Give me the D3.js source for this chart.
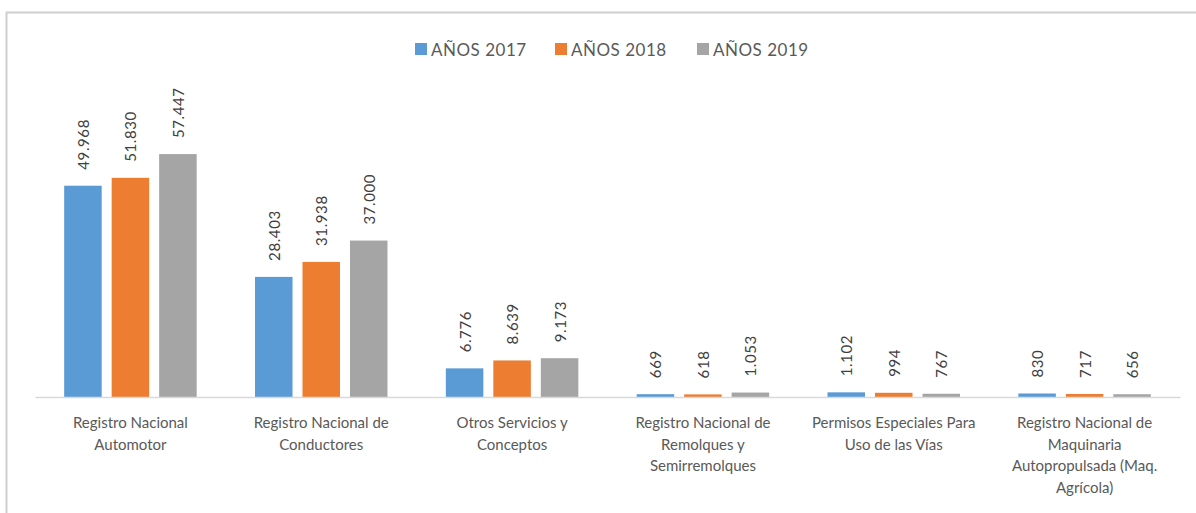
<!DOCTYPE html>
<html>
<head>
<meta charset="utf-8">
<script src="https://cdn.jsdelivr.net/npm/d3@7"></script>
<style>
  html, body { margin: 0; padding: 0; background: #ffffff; }
  svg { display: block; }
  text { font-family: Lato, "Open Sans", sans-serif; }
</style>
</head>
<body>
<svg id="chart" width="1196" height="513"></svg>
<script>
// Trámites por tipo de servicio, 2017–2019
const categories = [
  "Registro Nacional Automotor",
  "Registro Nacional de Conductores",
  "Otros Servicios y Conceptos",
  "Registro Nacional de Remolques y Semirremolques",
  "Permisos Especiales Para Uso de las Vías",
  "Registro Nacional de Maquinaria Autopropulsada (Maq. Agrícola)"
];
const categoryLines = [
  ["Registro Nacional", "Automotor"],
  ["Registro Nacional de", "Conductores"],
  ["Otros Servicios y", "Conceptos"],
  ["Registro Nacional de", "Remolques y", "Semirremolques"],
  ["Permisos Especiales Para", "Uso de las Vías"],
  ["Registro Nacional de", "Maquinaria", "Autopropulsada (Maq.", "Agrícola)"]
];
const seriesNames = ["AÑOS 2017", "AÑOS 2018", "AÑOS 2019"];
const values2017 = [49968, 28403, 6776, 669, 1102, 830];
const values2018 = [51830, 31938, 8639, 618, 994, 717];
const values2019 = [57447, 37000, 9173, 1053, 767, 656];
const seriesColors = ["#5B9BD5", "#ED7D31", "#A5A5A5"];

const seriesValues = [values2017, values2018, values2019];

const svg = d3.select("#chart");
const W = 1196, H = 513;

// chart area frame
svg.append("rect")
  .attr("x", 6.5).attr("y", 12.5)
  .attr("width", W + 10).attr("height", H + 10)
  .attr("fill", "#ffffff")
  .attr("stroke", "#cfcfcf")
  .attr("stroke-width", 2);

const plot = { left: 35, right: 1180, top: 101, bottom: 397 };

const x0 = d3.scaleBand()
  .domain(categories)
  .range([plot.left, plot.right])
  .paddingInner(0).paddingOuter(0);

const groupWidth = 132.5;
const x1 = d3.scaleBand()
  .domain(seriesNames)
  .range([0, groupWidth])
  .paddingInner(0.21).paddingOuter(0);

const y = d3.scaleLinear()
  .domain([0, 70000])
  .range([plot.bottom, plot.top]);

const fmt = v => d3.format(",")(v).replace(/,/g, ".");

const groups = svg.append("g").selectAll("g")
  .data(categories)
  .join("g")
  .attr("transform", d => `translate(${x0(d) + (x0.bandwidth() - groupWidth) / 2},0)`);

groups.each(function(cat, ci) {
  const g = d3.select(this);
  const rows = seriesNames.map((s, si) => ({ s, si, v: seriesValues[si][ci] }));
  g.selectAll("rect")
    .data(rows)
    .join("rect")
    .attr("x", d => x1(d.s))
    .attr("y", d => y(d.v))
    .attr("width", x1.bandwidth())
    .attr("height", d => y(0) - y(d.v))
    .attr("fill", d => seriesColors[d.si]);

  g.selectAll("text.val")
    .data(rows)
    .join("text")
    .attr("class", "val")
    .attr("transform", d => `translate(${x1(d.s) + x1.bandwidth() / 2},${y(d.v) - 16}) rotate(-90)`)
    .attr("text-anchor", "start")
    .attr("dominant-baseline", "central")
    .attr("font-size", 15)
    .attr("letter-spacing", 0.6)
    .attr("fill", "#404040")
    .text(d => fmt(d.v));
});

// category axis line
const xAxis = d3.axisBottom(x0).tickSize(0).tickFormat("");
const axisG = svg.append("g")
  .attr("transform", `translate(0,${plot.bottom})`)
  .call(xAxis);
axisG.select(".domain").attr("stroke", "#d9d9d9").attr("stroke-width", 1.5);

// category labels
const labelG = svg.append("g");
categories.forEach((cat, ci) => {
  const t = labelG.append("text")
    .attr("x", x0(cat) + x0.bandwidth() / 2)
    .attr("y", 428)
    .attr("text-anchor", "middle")
    .attr("font-size", 15)
    .attr("fill", "#595959");
  categoryLines[ci].forEach((line, li) => {
    t.append("tspan")
      .attr("x", x0(cat) + x0.bandwidth() / 2)
      .attr("y", 428 + li * 21.5)
      .text(line);
  });
});

// legend
const legendX = [415, 555, 697];
const legend = svg.append("g");
seriesNames.forEach((name, i) => {
  legend.append("rect")
    .attr("x", legendX[i]).attr("y", 43)
    .attr("width", 12).attr("height", 12)
    .attr("fill", seriesColors[i]);
  legend.append("text")
    .attr("x", legendX[i] + 16).attr("y", 49)
    .attr("dominant-baseline", "central")
    .attr("font-size", 17)
    .attr("letter-spacing", 0.5)
    .attr("fill", "#595959")
    .text(name);
});
</script>
</body>
</html>
